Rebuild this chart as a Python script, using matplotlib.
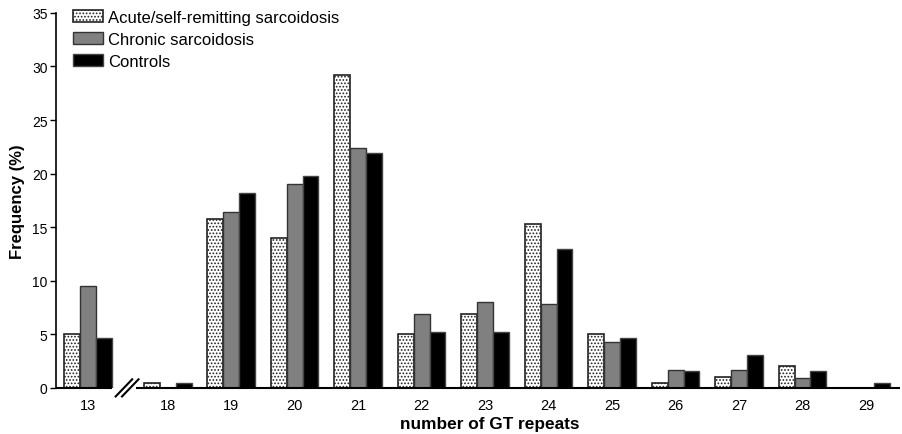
import matplotlib
matplotlib.use("Agg")
import matplotlib.pyplot as plt
import numpy as np

plt.rcParams['font.family'] = ['Liberation Sans', 'DejaVu Sans']
plt.rcParams['hatch.linewidth'] = 0.8

repeats = ["13", "18", "19", "20", "21", "22", "23", "24", "25", "26", "27", "28", "29"]
acute = [5.0, 0.5, 15.8, 14.0, 29.2, 5.0, 6.9, 15.3, 5.0, 0.5, 1.0, 2.0, 0.0]
chronic = [9.5, 0.0, 16.4, 19.0, 22.4, 6.9, 8.0, 7.8, 4.3, 1.7, 1.7, 0.9, 0.0]
controls = [4.7, 0.5, 18.2, 19.8, 21.9, 5.2, 5.2, 13.0, 4.7, 1.6, 3.1, 1.6, 0.5]
series_names = ["Acute/self-remitting sarcoidosis", "Chronic sarcoidosis", "Controls"]

# extra spacing after the first category to leave room for the axis break
gap_after_first = 0.26
pos = np.arange(len(repeats), dtype=float)
pos[1:] += gap_after_first

fig = plt.figure(figsize=(9.03, 4.35), dpi=100)
ax = fig.add_axes([0.062, 0.106, 0.935, 0.862])

w = 0.25
ax.bar(pos - w, acute, w, facecolor='white', edgecolor='#222222', hatch='.....',
       linewidth=1.2, label=series_names[0])
ax.bar(pos, chronic, w, facecolor='#808080', edgecolor='#333333',
       linewidth=1.0, label=series_names[1])
ax.bar(pos + w, controls, w, facecolor='black', edgecolor='#444444',
       linewidth=1.0, label=series_names[2])

ax.set_xlim(-0.5, 12.8)
ax.set_ylim(0, 35)
ax.set_yticks(np.arange(0, 36, 5))
ax.set_xticks(pos)
ax.set_xticklabels(repeats, fontsize=10.5)
ax.tick_params(axis='x', length=0, pad=7)
ax.tick_params(axis='y', length=4, width=1, labelsize=10, pad=2)

for s in ['top', 'right', 'bottom']:
    ax.spines[s].set_visible(False)
ax.spines['left'].set_linewidth(1.2)

# baseline drawn in two pieces with a break between 13 and 18
b0, b1 = 0.39, 0.76
ax.plot([-0.5, b0], [0, 0], color='black', lw=1.5, clip_on=False, solid_capstyle='butt')
ax.plot([b1, 12.8], [0, 0], color='black', lw=1.5, clip_on=False, solid_capstyle='butt')
for dx in (0.0, 0.1):
    ax.plot([0.44 + dx, 0.80 + dx - 0.1], [-0.8, 0.8], color='black', lw=1.5, clip_on=False)

ax.set_xlabel("number of GT repeats", fontsize=12.4, fontweight='bold', labelpad=1)
ax.xaxis.set_label_coords(0.514, -0.075)
ax.set_ylabel("Frequency (%)", fontsize=12, fontweight='bold', labelpad=5)

leg = ax.legend(loc='upper left', bbox_to_anchor=(0.008, 1.035), frameon=False,
                fontsize=12, handlelength=1.8, handleheight=0.65,
                handletextpad=0.3, labelspacing=0.42, borderaxespad=0.2)

fig.savefig("out.png", dpi=100)
